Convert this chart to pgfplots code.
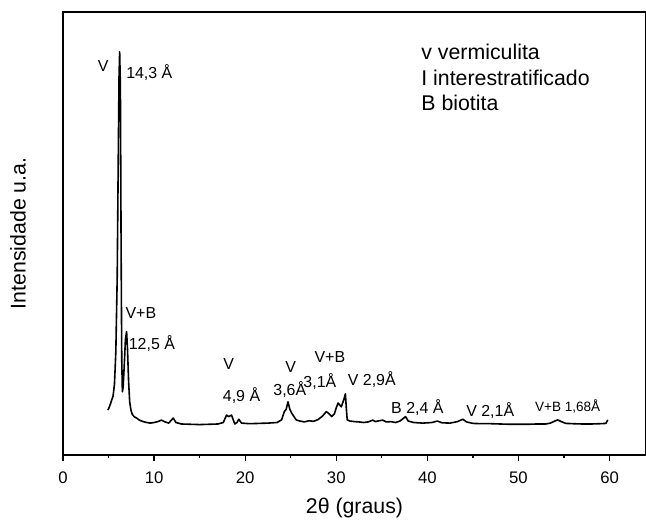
\documentclass[border=0pt]{standalone}
\usepackage{fontspec}
\setmainfont{Liberation Sans}
\usepackage{pgfplots}
\pgfplotsset{compat=1.18}
\begin{document}
\begin{tikzpicture}
  \begin{axis}[
    scale only axis,
    width=291.5bp, height=221.5bp,
    xmin=0, xmax=64, ymin=0, ymax=15,
    axis line style={line width=0.75bp},
    xtick={0,10,...,60},
    minor xtick={5,15,...,55},
    xtick pos=bottom,
    xtick align=outside,
    major tick length=3bp,
    minor tick length=1.5bp,
    every tick/.style={black, line width=0.6bp},
    ytick=\empty,
    minor ytick={1,2,...,14},
    ytick pos=left,
    ytick align=inside,
    /pgf/number format/assume math mode=true,
    xticklabel style={font=\fontsize{8.4}{9}\selectfont, yshift=-2bp},
    xlabel={2θ (graus)},
    xlabel style={font=\fontsize{10.7}{12}\selectfont, at={(axis description cs:0.5,-0.12)}, anchor=center},
    ylabel={Intensidade u.a.},
    ylabel style={font=\fontsize{10.7}{12}\selectfont, at={(axis description cs:-0.077,0.5)}, anchor=center},
    clip=false,
  ]
    \addplot[black, line width=0.8bp, line join=round] coordinates {
      (4.93,1.52) (5.05,1.60) (5.2,1.72) (5.34,1.86) (5.5,2.0) (5.65,2.4)
      (5.8,3.5) (5.95,6.0) (6.05,9.5) (6.15,12.8) (6.22,13.65) (6.3,12.5)
      (6.38,7.0) (6.45,3.2) (6.52,2.14) (6.6,2.3) (6.72,3.0) (6.85,3.9)
      (6.98,4.18) (7.08,3.6) (7.2,2.5) (7.32,1.8) (7.46,1.52) (7.6,1.38)
      (7.8,1.30) (8.08,1.25) (8.4,1.18) (8.8,1.13) (9.2,1.10) (9.6,1.08)
      (10.0,1.10) (10.4,1.13) (10.8,1.18) (11.2,1.12) (11.6,1.08) (12.1,1.25)
      (12.4,1.10) (13,1.05) (14,1.04) (15,1.03) (16,1.04) (17,1.05)
      (17.6,1.10) (17.95,1.35) (18.2,1.30) (18.5,1.35) (18.86,1.05) (19.1,1.10)
      (19.3,1.21) (19.6,1.08) (20.5,1.06) (21.5,1.07) (22.5,1.08) (23.5,1.10)
      (24.0,1.19) (24.3,1.47) (24.5,1.55) (24.7,1.80) (24.9,1.55) (25.1,1.42)
      (25.4,1.28) (25.6,1.19) (26.0,1.15) (26.5,1.12) (27.0,1.16) (27.5,1.14)
      (28.0,1.20) (28.5,1.32) (28.9,1.47) (29.2,1.40) (29.5,1.30) (29.8,1.40)
      (30.0,1.60) (30.2,1.76) (30.55,1.63) (30.8,1.85) (31.0,2.07) (31.1,1.6)
      (31.2,1.19) (31.5,1.15) (32,1.13) (32.5,1.12) (33,1.10) (33.5,1.12)
      (34.0,1.18) (34.3,1.13) (34.7,1.16) (35.1,1.18) (35.5,1.12) (36,1.13)
      (36.5,1.10) (37.0,1.15) (37.4,1.25) (37.6,1.30) (37.9,1.15) (38.5,1.10)
      (39.5,1.08) (40.5,1.10) (41.1,1.15) (41.6,1.09) (42.5,1.08) (43.3,1.13)
      (43.9,1.21) (44.3,1.12) (45,1.07) (46,1.06) (47,1.06) (48,1.05)
      (49,1.04) (50,1.04) (51,1.04) (52,1.05) (53,1.05) (53.5,1.08)
      (54.0,1.15) (54.3,1.19) (54.7,1.13) (55.2,1.07) (56,1.06) (57,1.05)
      (58,1.05) (59,1.06) (59.6,1.07) (59.8,1.19)
    };
    % peak labels
    \begin{scope}[every node/.style={font=\fontsize{8}{9}\selectfont, inner sep=0pt}]
      \node at (axis cs:4.4,13.17) {V};
      \node[anchor=west] at (axis cs:6.9,12.94) {14,3 Å};
      \node at (axis cs:8.55,4.81) {V+B};
      \node at (axis cs:9.76,3.79) {12,5 Å};
      \node at (axis cs:18.2,3.08) {V};
      \node at (axis cs:19.6,2.0) {4,9 Å};
      \node at (axis cs:25.0,2.98) {V};
      \node at (axis cs:24.9,2.2) {3,6Å};
      \node at (axis cs:29.3,3.32) {V+B};
      \node at (axis cs:28.2,2.5) {3,1Å};
      \node at (axis cs:33.9,2.54) {V 2,9Å};
      \node at (axis cs:38.9,1.59) {B 2,4 Å};
      \node at (axis cs:46.9,1.52) {V 2,1Å};
      \node[font=\fontsize{6.8}{8}\selectfont] at (axis cs:55.4,1.63) {V+B 1,68Å};
    \end{scope}
    % key
    \begin{scope}[every node/.style={font=\fontsize{10.7}{12}\selectfont, inner sep=0pt, anchor=west}]
      \node at (axis cs:39.3,13.66) {v vermiculita};
      \node at (axis cs:39.3,12.77) {I interestratificado};
      \node at (axis cs:39.3,11.92) {B biotita};
    \end{scope}
  \end{axis}
  \pgfresetboundingbox
  \path[use as bounding box] (current axis.south west) ++(-31.5bp,-34.5bp) rectangle ++(323bp,262bp);
\end{tikzpicture}
\end{document}
